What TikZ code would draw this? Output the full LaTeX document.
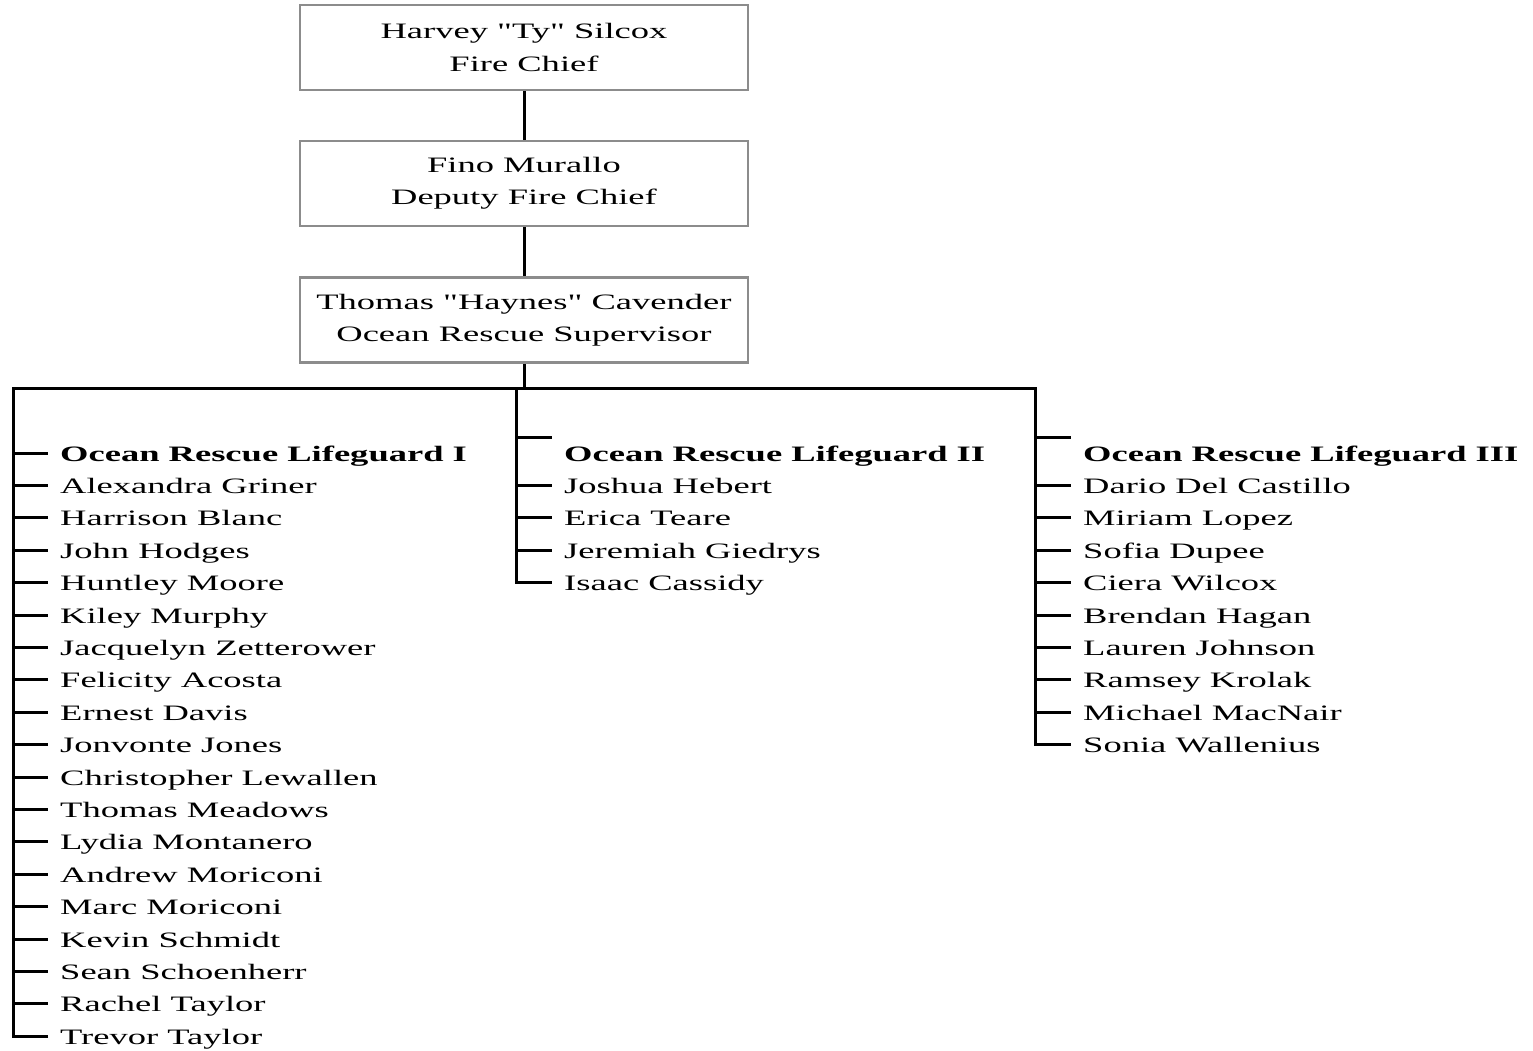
\documentclass[tikz,border=0pt]{standalone}
\usepackage{fontspec}
\setmainfont[FakeStretch=1.66, Ligatures=TeXOff]{Liberation Serif}
\definecolor{boxgray}{RGB}{140,140,140}

\begin{document}
\begin{tikzpicture}[x=1pt, y=-1pt,
  box/.style={draw=boxgray, line width=2.5pt, minimum width=448pt, minimum height=85pt, align=center, inner sep=0pt, font=\fontsize{22}{32.4}\selectfont},
  conn/.style={line width=3pt, black},
  entry/.style={anchor=west, inner sep=0pt, inner xsep=12pt, text height=20pt, text depth=4pt, font=\fontsize{22}{32.4}\selectfont}]
\useasboundingbox (0, 0) rectangle (1533, 1051);

% chain of command
\node [box] (chief) at (524, 47.5) {Harvey "Ty" Silcox\\Fire Chief};
\node [box] (deputy) at (524, 183.5) {Fino Murallo\\Deputy Fire Chief};
\node [box] (super) at (524, 320) {Thomas "Haynes" Cavender\\Ocean Rescue Supervisor};
\draw [conn] (chief) -- (deputy);
\draw [conn] (deputy) -- (super);

\coordinate (busL) at (13, 388);
\coordinate (busM) at (516, 388);
\coordinate (busR) at (1035, 388);
\draw [conn] (super.south) -- (super.south |- busL);

% headers
\node [entry] (h1) at (48, 453) {\bfseries Ocean Rescue Lifeguard I};
\node [entry] (h2) at (552, 453) {\bfseries Ocean Rescue Lifeguard II};
\node [entry] (h3) at (1071, 453) {\bfseries Ocean Rescue Lifeguard III};
\coordinate (t2) at (552, 437);
\coordinate (t3) at (1071, 437);

% lifeguard I
\foreach \who [count=\i] in {Alexandra Griner, Harrison Blanc, John Hodges, Huntley Moore, Kiley Murphy, Jacquelyn Zetterower, Felicity Acosta, Ernest Davis, Jonvonte Jones, Christopher Lewallen, Thomas Meadows, Lydia Montanero, Andrew Moriconi, Marc Moriconi, Kevin Schmidt, Sean Schoenherr, Rachel Taylor, Trevor Taylor}
  \node [entry] (c1n\i) at (48, {453+32.4*\i}) {\who};

% lifeguard II
\foreach \who [count=\i] in {Joshua Hebert, Erica Teare, Jeremiah Giedrys, Isaac Cassidy}
  \node [entry] (c2n\i) at (552, {453+32.4*\i}) {\who};

% lifeguard III
\foreach \who [count=\i] in {Dario Del Castillo, Miriam Lopez, Sofia Dupee, Ciera Wilcox, Brendan Hagan, Lauren Johnson, Ramsey Krolak, Michael MacNair, Sonia Wallenius}
  \node [entry] (c3n\i) at (1071, {453+32.4*\i}) {\who};

% bus and column lines
\draw [conn] (c1n18.west) -| (busL) -- (busR) |- (c3n9.west);
\draw [conn] (busM) |- (c2n4.west);

\draw [conn] (busL |- h1.west) -- (h1.west);
\foreach \i in {1,...,17}
  \draw [conn] (busL |- c1n\i.west) -- (c1n\i.west);
\draw [conn] (busM |- t2) -- (t2);
\foreach \i in {1,...,3}
  \draw [conn] (busM |- c2n\i.west) -- (c2n\i.west);
\draw [conn] (busR |- t3) -- (t3);
\foreach \i in {1,...,8}
  \draw [conn] (busR |- c3n\i.west) -- (c3n\i.west);
\end{tikzpicture}
\end{document}
